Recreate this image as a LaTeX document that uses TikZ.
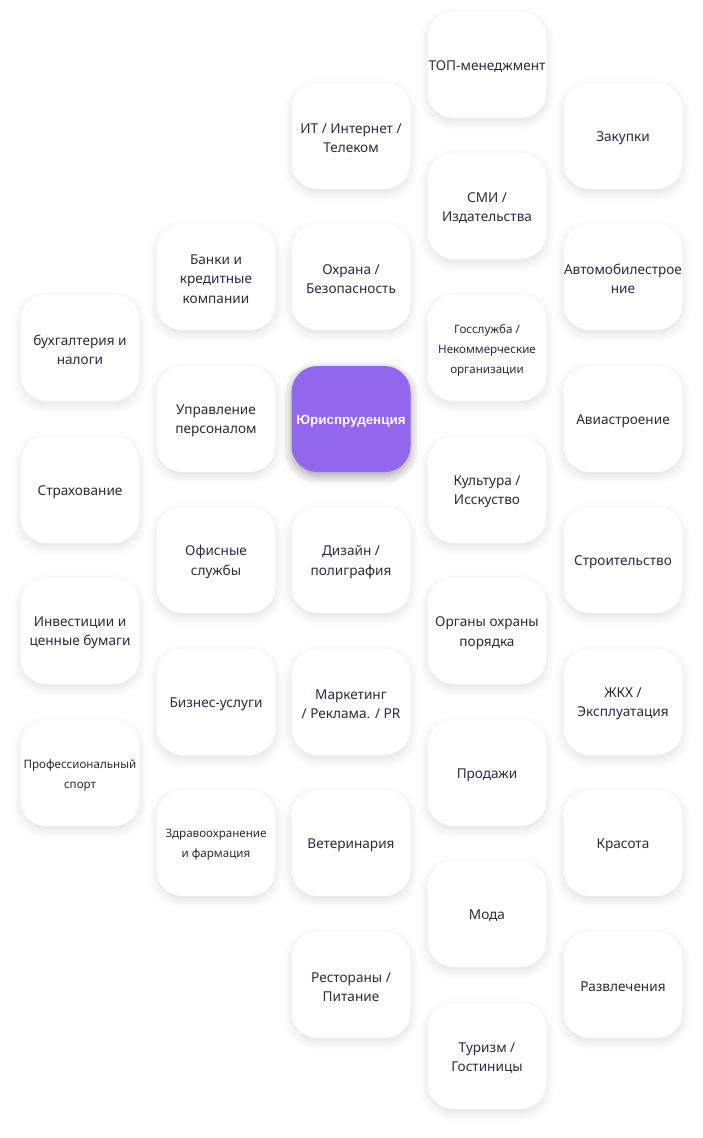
\documentclass[tikz,border=0pt]{standalone}
\usepackage{fontspec}
\setmainfont{Noto Sans}
\newfontfamily\boldfam{Liberation Sans}
\usetikzlibrary{shadows.blur}
\definecolor{txt}{HTML}{2E2A40}
\definecolor{purp}{HTML}{9366EE}
\tikzset{
  card/.style={draw=none, fill=white, rounded corners=26pt, minimum width=119pt, minimum height=106pt,
    inner sep=0pt,
    blur shadow={shadow xshift=0pt, shadow yshift=-4pt, shadow blur radius=9pt, shadow opacity=12}},
  main/.style={card, fill=purp,
    blur shadow={shadow xshift=0pt, shadow yshift=-4pt, shadow blur radius=9pt, shadow opacity=20}},
  lbl/.style={align=center, text=txt, font=\fontsize{13.6}{19.5}\selectfont, inner sep=0pt},
  small/.style={font=\fontsize{11.6}{20}\selectfont},
  mainlbl/.style={lbl, text=white, font=\boldfam\bfseries\fontsize{13.4}{19.5}\selectfont}
}
\newcommand\card[4][]{%
  \node[card] (#2) at (#3) {};
  \node[lbl,#1] (#2-t) at ([yshift=-2pt]#2.center) {#4};
}
\begin{document}
\begin{tikzpicture}[x=1pt,y=-1pt]
\useasboundingbox (0,0) rectangle (703,1138);
\def\ca{80}\def\cb{216}\def\cc{351}\def\cd{487}\def\ce{623}
% col1
\card{buh}{\ca,348}{бухгалтерия и\\налоги}
\card{strah}{\ca,490}{Страхование}
\card{inv}{\ca,631}{Инвестиции и\\ценные бумаги}
\card[small]{sport}{\ca,773}{Профессиональный\\спорт}
% col2
\card{bank}{\cb,277}{Банки и\\кредитные\\компании}
\card{uprav}{\cb,419}{Управление\\персоналом}
\card{ofis}{\cb,560}{Офисные\\службы}
\card{biz}{\cb,702}{Бизнес-услуги}
\card[small]{zdrav}{\cb,843}{Здравоохранение\\и фармация}
% col3
\card{it}{\cc,136}{ИТ / Интернет /\\Телеком}
\card{ohr}{\cc,277}{Охрана /\\Безопасность}
\node[main] (jur) at (\cc,419) {};
\node[mainlbl] (jur-t) at ([yshift=-2pt]jur.center) {Юриспруденция};
\card{diz}{\cc,560}{Дизайн /\\полиграфия}
\card{mark}{\cc,702}{Маркетинг\\/ Реклама. / PR}
\card{vet}{\cc,843}{Ветеринария}
\card{rest}{\cc,985}{Рестораны /\\Питание}
% col4
\card{top}{\cd,65}{ТОП-менеджмент}
\card{smi}{\cd,206}{СМИ /\\Издательства}
\card[small]{gos}{\cd,348}{Госслужба /\\Некоммерческие\\организации}
\card{kult}{\cd,490}{Культура /\\Исскуство}
\card{org}{\cd,631}{Органы охраны\\порядка}
\card{prod}{\cd,773}{Продажи}
\card{moda}{\cd,914}{Мода}
\card{tur}{\cd,1056}{Туризм /\\Гостиницы}
% col5
\card{zak}{\ce,136}{Закупки}
\card{avto}{\ce,277}{Автомобилестрое\\ние}
\card{avia}{\ce,419}{Авиастроение}
\card{stroi}{\ce,560}{Строительство}
\card{zhkh}{\ce,702}{ЖКХ /\\Эксплуатация}
\card{kras}{\ce,843}{Красота}
\card{razv}{\ce,985}{Развлечения}
\end{tikzpicture}
\end{document}
